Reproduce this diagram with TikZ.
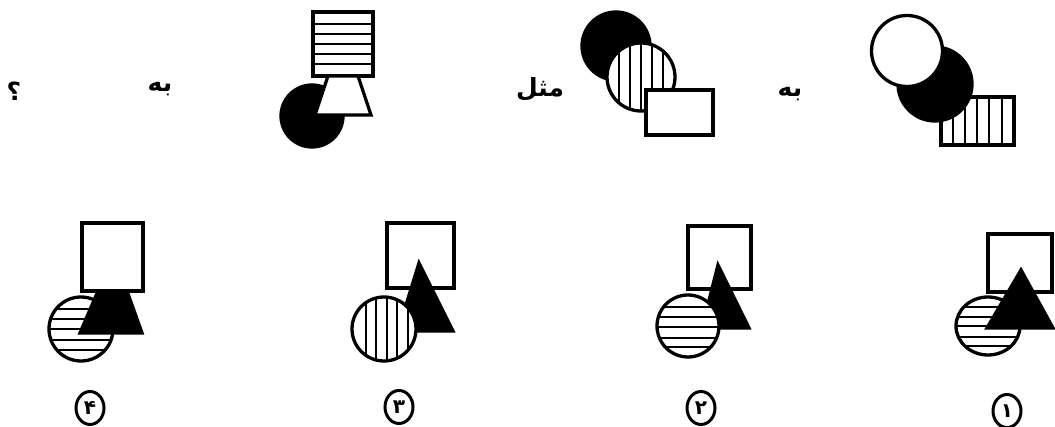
\documentclass[tikz,border=0pt]{standalone}
\usepackage{fontspec}
\usetikzlibrary{shapes.geometric}
\newfontfamily\arabicfont[Script=Arabic]{DejaVu Sans}
\TeXXeTstate=1
\tikzset{
  outl/.style={draw=black,line width=3.3pt,line join=miter},
  stripe/.style={draw=black,line width=2.3pt},
  wfill/.style={fill=white},
  bfill/.style={fill=black},
  word/.style={font=\arabicfont\fontsize{25}{29}\selectfont\bfseries,inner sep=0pt},
  numlabel/.style={shape=ellipse,draw=black,line width=3pt,minimum width=28pt,minimum height=33pt,inner sep=0pt,font=\arabicfont\fontsize{20}{22}\selectfont\bfseries}
}
\begin{document}
\begin{tikzpicture}[x=1pt,y=-1pt]
\useasboundingbox[fill=white] (0,0) rectangle (1055,427);

% ---------- Figure A (top right) ----------
\fill[white] (941,97) rectangle (1014,145);
\begin{scope}
  \clip (941,97) rectangle (1014,145);
  \foreach \xx in {953,965,977,989,1002} \draw[stripe] (\xx,90) -- (\xx,150);
\end{scope}
\draw[outl] (941,97) rectangle (1014,145);
\filldraw[outl,bfill] (935,84) circle (37);
\filldraw[outl,wfill] (907,51) circle (35.5);

% ---------- Figure B ----------
\filldraw[outl,bfill] (616,46) circle (34);
\fill[white] (641,77) circle (34);
\begin{scope}
  \clip (641,77) circle (34);
  \foreach \xx in {619,630,641,652,663} \draw[stripe] (\xx,35) -- (\xx,120);
\end{scope}
\draw[outl] (641,77) circle (34);
\filldraw[outl,wfill] (646,90) rectangle (713,135);

% ---------- Figure C ----------
\fill[white] (313,12) rectangle (373,76);
\begin{scope}
  \clip (313,12) rectangle (373,76);
  \foreach \yy in {24,34,44,54,64} \draw[stripe] (305,\yy) -- (380,\yy);
\end{scope}
\draw[outl] (313,12) rectangle (373,76);
\filldraw[outl,bfill] (312,116) circle (31);
\filldraw[outl,wfill] (328,76) -- (358,76) -- (371,115) -- (315,115) -- cycle;

% ---------- Texts of the top row ----------
\node[word] (be1) at (790,94) {\beginR به\endR};
\node[word] (mesl) at (540,89) {\beginR مثل\endR};
\node[word] (be2) at (160,89) {\beginR به\endR};
\node[word] (q) at (14,91) {\beginR ؟\endR};

% ---------- Option 4 ----------
\filldraw[outl,wfill] (82,223) rectangle (143,291);
\fill[white] (81,329) circle (32);
\begin{scope}
  \clip (81,329) circle (32);
  \foreach \yy in {309,319,329,340,350} \draw[stripe] (45,\yy) -- (120,\yy);
\end{scope}
\draw[outl] (81,329) circle (32);
\filldraw[outl,bfill] (98,291) -- (127,291) -- (142,333) -- (80,333) -- cycle;

% ---------- Option 3 ----------
\filldraw[outl,wfill] (387,223) rectangle (454,288);
\filldraw[outl,bfill] (419,263) -- (453,331) -- (398,331) -- cycle;
\fill[white] (384,329) circle (32);
\begin{scope}
  \clip (384,329) circle (32);
  \foreach \xx in {366,376,387,397,408} \draw[stripe] (\xx,290) -- (\xx,365);
\end{scope}
\draw[outl] (384,329) circle (32);

% ---------- Option 2 ----------
\filldraw[outl,wfill] (688,226) rectangle (751,289);
\filldraw[outl,bfill] (718,265) -- (749,328) -- (702,328) -- cycle;
\fill[white] (688,326) circle (31);
\begin{scope}
  \clip (688,326) circle (31);
  \foreach \yy in {307,317,327,338,347} \draw[stripe] (650,\yy) -- (725,\yy);
\end{scope}
\draw[outl] (688,326) circle (31);

% ---------- Option 1 ----------
\filldraw[outl,wfill] (988,234) rectangle (1052,292);
\fill[white] (988,326) ellipse [x radius=32, y radius=29];
\begin{scope}
  \clip (988,326) ellipse [x radius=32, y radius=29];
  \foreach \yy in {307,317,326,337,346} \draw[stripe] (950,\yy) -- (1025,\yy);
\end{scope}
\draw[outl] (988,326) ellipse [x radius=32, y radius=29];
\filldraw[outl,bfill] (1021,270) -- (1053,328) -- (987,328) -- cycle;

% ---------- Option numbers ----------
\node[numlabel] (n4) at (90,408) {۴};
\node[numlabel] (n3) at (399,407) {۳};
\node[numlabel] (n2) at (701,408) {۲};
\node[numlabel] (n1) at (1007,411) {۱};
\end{tikzpicture}
\end{document}
